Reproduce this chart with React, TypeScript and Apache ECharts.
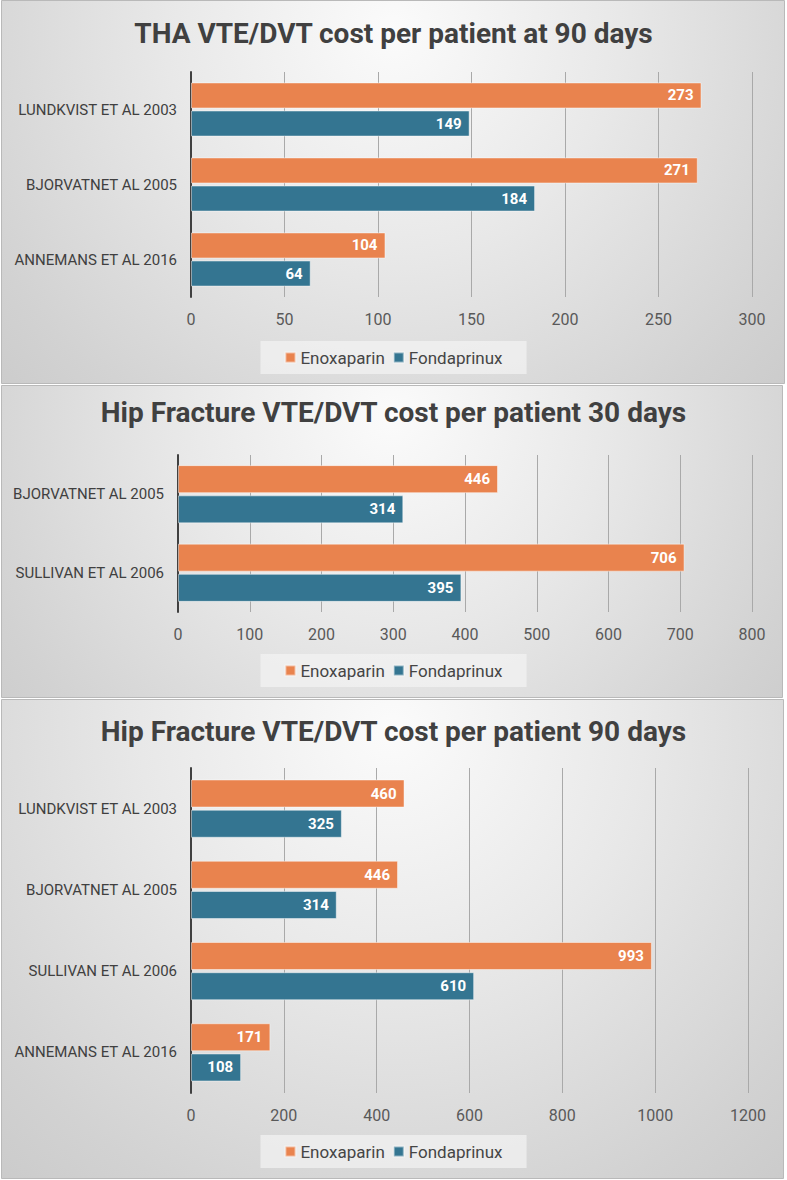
import React, { useEffect, useRef } from "react";
import * as echarts from "echarts";

// THA, 90 days
const thaStudies = ["LUNDKVIST ET AL 2003", "BJORVATNET AL 2005", "ANNEMANS ET AL 2016"];
const thaEnoxaparin = [273, 271, 104];
const thaFondaparinux = [149, 184, 64];

// Hip fracture, 30 days
const hip30Studies = ["BJORVATNET AL 2005", "SULLIVAN ET AL 2006"];
const hip30Enoxaparin = [446, 706];
const hip30Fondaparinux = [314, 395];

// Hip fracture, 90 days
const hip90Studies = ["LUNDKVIST ET AL 2003", "BJORVATNET AL 2005", "SULLIVAN ET AL 2006", "ANNEMANS ET AL 2016"];
const hip90Enoxaparin = [460, 446, 993, 171];
const hip90Fondaparinux = [325, 314, 610, 108];

const titles = [
  "THA VTE/DVT cost per patient at 90 days",
  "Hip Fracture VTE/DVT cost per patient 30 days",
  "Hip Fracture VTE/DVT cost per patient 90 days",
];
const seriesNames = ["Enoxaparin", "Fondaprinux"];

const ORANGE = "#E9834E";
const BLUE = "#347591";
const FONT = "Roboto, 'Noto Sans', sans-serif";

// panel frames: [x, y, w, h]
const panels = [
  [1.5, 0.5, 783, 383],
  [1.5, 385.5, 781, 312],
  [1.5, 699.5, 782, 479],
];

const grids = [
  { left: 191, right: 35, top: 72, height: 225 },
  { left: 178, right: 35, top: 455, height: 157 },
  { left: 191, right: 39, top: 768, height: 325 },
];

const axes = [
  { max: 300, interval: 50 },
  { max: 800, interval: 100 },
  { max: 1200, interval: 200 },
];

const titleTops = [14, 393, 712];
const legendTops = [341, 654, 1135];
const barWidths = [26, 28, 28];

const panelData = [
  [thaStudies, thaEnoxaparin, thaFondaparinux],
  [hip30Studies, hip30Enoxaparin, hip30Fondaparinux],
  [hip90Studies, hip90Enoxaparin, hip90Fondaparinux],
] as const;

function panelBackground(p: number[], radius: number) {
  const [x, y, w, h] = p;
  return {
    type: "rect",
    z: -100,
    silent: true,
    shape: { x, y, width: w, height: h },
    style: {
      fill: {
        type: "radial",
        x: x + w / 2,
        y: y + 30,
        r: radius,
        global: true,
        colorStops: [
          { offset: 0, color: "#fbfbfb" },
          { offset: 0.35, color: "#e8e8e8" },
          { offset: 0.7, color: "#d2d2d2" },
          { offset: 1, color: "#c2c2c2" },
        ],
      },
      stroke: "#b9b9b9",
      lineWidth: 1,
    },
  };
}

export default function App() {
  const ref = useRef<HTMLDivElement>(null);

  useEffect(() => {
    if (!ref.current) return;
    const chart = echarts.init(ref.current, undefined, { renderer: "svg" });

    const label = {
      show: true,
      position: "insideRight",
      distance: 8,
      color: "#ffffff",
      fontWeight: "bold",
      fontSize: 15,
      fontFamily: FONT,
    };

    const series: any[] = [];
    panelData.forEach(([, enox, fonda], i) => {
      const common = {
        type: "bar",
        xAxisIndex: i,
        yAxisIndex: i,
        barWidth: barWidths[i],
        barGap: "8%",
        label,
        itemStyle: { borderColor: "rgba(255,255,255,0.45)", borderWidth: 1 },
      };
      series.push({ ...common, name: seriesNames[0], data: enox, itemStyle: { ...common.itemStyle, color: ORANGE } });
      series.push({ ...common, name: seriesNames[1], data: fonda, itemStyle: { ...common.itemStyle, color: BLUE } });
    });

    chart.setOption({
      animation: false,
      textStyle: { fontFamily: FONT },
      graphic: {
        elements: [
          panelBackground(panels[0], 650),
          panelBackground(panels[1], 620),
          panelBackground(panels[2], 720),
        ],
      },
      title: titles.map((t, i) => ({
        text: t,
        left: "center",
        top: titleTops[i],
        textStyle: { fontSize: 28, fontWeight: "bold", color: "#404040", fontFamily: FONT },
      })),
      legend: legendTops.map((top) => ({
        data: seriesNames,
        top,
        left: "center",
        icon: "rect",
        itemWidth: 10,
        itemHeight: 10,
        itemGap: 8,
        padding: [8, 24],
        backgroundColor: "rgba(244,244,244,0.7)",
        textStyle: { fontSize: 17, color: "#454545", fontFamily: FONT },
      })),
      grid: grids.map((g) => ({ ...g, containLabel: false })),
      xAxis: axes.map((a, i) => ({
        type: "value",
        gridIndex: i,
        min: 0,
        max: a.max,
        interval: a.interval,
        axisLine: { show: false },
        axisTick: { show: false },
        splitLine: { show: true, lineStyle: { color: "#a9a9a9", width: 1 } },
        axisLabel: {
          color: "#595959",
          fontSize: 16,
          margin: 14,
          fontFamily: FONT,
          formatter: (v: number) => String(v),
        },
      })),
      yAxis: panelData.map(([cats], i) => ({
        type: "category",
        gridIndex: i,
        data: cats,
        inverse: true,
        axisLine: { show: true, lineStyle: { color: "#404040", width: 2 } },
        axisTick: { show: false },
        axisLabel: { color: "#404040", fontSize: 15, margin: 14, fontFamily: FONT },
      })),
      series,
    });

    return () => chart.dispose();
  }, []);

  return (
    <div
      ref={ref}
      style={{ position: "absolute", left: 0, top: 0, width: 787, height: 1180 }}
    />
  );
}
